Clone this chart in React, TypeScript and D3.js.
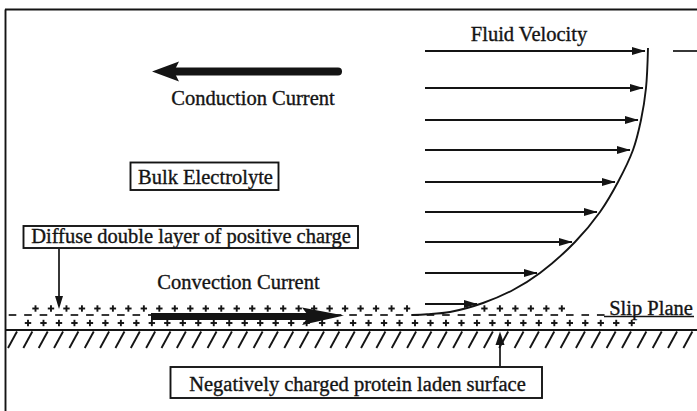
import React from "react";
import * as d3 from "d3";

const W = 697;
const H = 411;

// Velocity profile: height above slip plane (px units) and velocity magnitude
const arrowHeights = [263, 226, 194, 164, 132, 102, 72, 41, 10];
const arrowVelocities = [220, 218, 213, 205, 190, 172, 147, 112, 52];
const curveHeights = [266, 226, 194, 164, 132, 102, 72, 41, 24, 11, 2, -0.3, -1];
const curveVelocities = [223, 221, 216, 208, 193, 175, 150, 115, 88, 58, 25, 2, -13];

// Charge layer pattern
const lowerPlusCount = 40;
const dashCount = 39;
const topPlusCount = 35;
const hiddenTopPlus = [25, 26, 27, 28];

const labels = {
  fluid: "Fluid Velocity",
  conduction: "Conduction Current",
  bulk: "Bulk Electrolyte",
  diffuse: "Diffuse double layer of positive charge",
  convection: "Convection Current",
  slip: "Slip Plane",
  surface: "Negatively charged protein laden surface",
};

const INK = "#141414";
const FONT = "'Liberation Serif', 'Times New Roman', serif";

export default function App() {
  const yScale = d3.scaleLinear().domain([0, 263]).range([314, 51]);
  const xScale = d3.scaleLinear().domain([0, 220]).range([425, 645]);

  const curvePts: [number, number][] = curveHeights.map((h, i) => [
    xScale(curveVelocities[i]),
    yScale(h),
  ]);
  const curvePath = d3.line().curve(d3.curveCatmullRom.alpha(0.5))(curvePts) || "";

  const step = 15.48;
  const lowerX = d3.range(lowerPlusCount).map((k) => 28 + step * k);
  const dashX = d3.range(dashCount).map((k) => 12.5 + step * k);
  const topX = d3
    .range(topPlusCount)
    .filter((k) => !hiddenTopPlus.includes(k))
    .map((k) => 35.5 + step * k);
  const hatchX = d3.range(8, W + 5, 15.35);

  const plus = (x: number, y: number, s: number, key: string) => (
    <g key={key} stroke={INK} strokeWidth={1.9}>
      <line x1={x - s} x2={x + s} y1={y} y2={y} />
      <line x1={x} x2={x} y1={y - s} y2={y + s} />
    </g>
  );

  const textStyle = {
    fontFamily: FONT,
    fontSize: 20.5,
    fill: INK,
    stroke: INK,
    strokeWidth: 0.35,
  } as const;

  return (
    <svg
      width={W}
      height={H}
      viewBox={`0 0 ${W} ${H}`}
      style={{ position: "absolute", left: 0, top: 0, background: "#fff" }}
    >
      <defs>
        <marker id="ah" viewBox="0 0 14 10" refX="13.5" refY="5" markerWidth="14" markerHeight="10" markerUnits="userSpaceOnUse" orient="auto">
          <path d="M0,0.8 L14,5 L0,9.2 Z" fill={INK} />
        </marker>
      </defs>
      <rect width={W} height={H} fill="#fff" />
      {/* frame */}
      <line x1={5.5} x2={5.5} y1={9.5} y2={H} stroke={INK} strokeWidth={1.9} />
      <line x1={5} x2={W} y1={9.5} y2={9.5} stroke={INK} strokeWidth={1.9} />
      <line x1={673} x2={W} y1={51} y2={51} stroke={INK} strokeWidth={1.7} />

      {/* surface */}
      <line x1={5} x2={W} y1={330} y2={330} stroke={INK} strokeWidth={2.1} />
      {hatchX.map((x, i) => (
        <line key={"h" + i} x1={x} y1={348} x2={x + 9} y2={331.5} stroke={INK} strokeWidth={1.9} />
      ))}

      {/* charge layer */}
      {dashX.map((x, i) => (
        <line key={"d" + i} x1={x - 3.8} x2={x + 3.8} y1={315} y2={315} stroke={INK} strokeWidth={1.7} />
      ))}
      {lowerX.map((x, i) => plus(x, 323, 3.2, "lp" + i))}
      {topX.map((x, i) => plus(x, 308.5, 3.2, "tp" + i))}
      <line x1={604} x2={694} y1={316.5} y2={316.5} stroke={INK} strokeWidth={1.5} />

      {/* velocity profile */}
      {arrowHeights.map((h, i) => (
        <line
          key={"va" + i}
          x1={425}
          x2={xScale(arrowVelocities[i])}
          y1={yScale(h)}
          y2={yScale(h)}
          stroke={INK}
          strokeWidth={1.8}
          markerEnd="url(#ah)"
        />
      ))}
      <path d={curvePath} fill="none" stroke={INK} strokeWidth={1.9} />

      {/* conduction current arrow */}
      <line x1={172} x2={338} y1={71.5} y2={71.5} stroke={INK} strokeWidth={8} strokeLinecap="round" />
      <path d="M152,71.5 L179,61.5 L174,71.5 L179,81.5 Z" fill={INK} />

      {/* convection current arrow */}
      <line x1={151} x2={310} y1={316.5} y2={316.5} stroke={INK} strokeWidth={7} />
      <path d="M302,307.5 L344,315.5 L302,325 L309,316.5 Z" fill={INK} />

      {/* boxes */}
      <rect x={130.5} y={162.5} width={148} height={27.5} fill="none" stroke={INK} strokeWidth={1.9} />
      <rect x={23.5} y={226} width={334.5} height={22} fill="#fff" stroke={INK} strokeWidth={1.9} />
      <rect x={170.5} y={367} width={371.5} height={31} fill="#fff" stroke={INK} strokeWidth={1.9} />

      {/* pointer arrows */}
      <line x1={59} x2={59} y1={249} y2={300} stroke={INK} strokeWidth={1.7} />
      <path d="M55,296 L59,309 L63,296 Z" fill={INK} />
      <line x1={500} x2={500} y1={366} y2={343} stroke={INK} strokeWidth={1.7} />
      <path d="M495.5,345 L500,331.5 L504.5,345 Z" fill={INK} />

      {/* labels */}
      <text x={529} y={40.5} textAnchor="middle" style={textStyle}>{labels.fluid}</text>
      <text x={253} y={104.5} textAnchor="middle" style={textStyle}>{labels.conduction}</text>
      <text x={205.5} y={183.5} textAnchor="middle" style={textStyle}>{labels.bulk}</text>
      <text x={191} y={242.5} textAnchor="middle" style={textStyle}>{labels.diffuse}</text>
      <text x={238.5} y={288.5} textAnchor="middle" style={textStyle}>{labels.convection}</text>
      <text x={651} y={315} textAnchor="middle" style={textStyle}>{labels.slip}</text>
      <text x={357.5} y={391} textAnchor="middle" style={textStyle}>{labels.surface}</text>
    </svg>
  );
}
